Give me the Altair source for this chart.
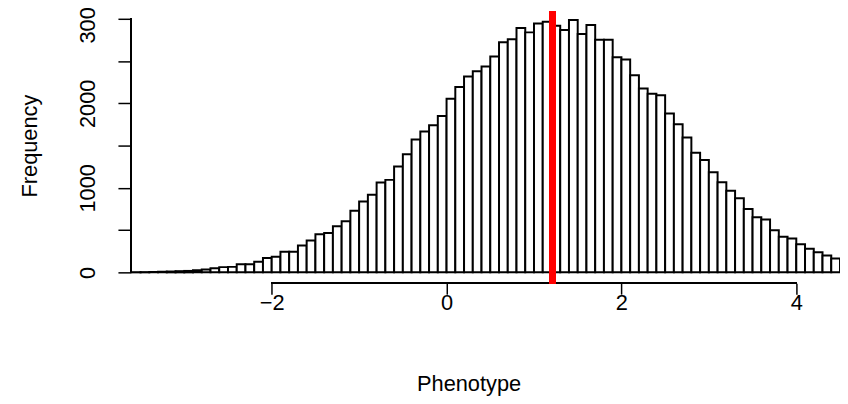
import altair as alt
import pandas as pd

# ---- data (bin width 0.1, first bin starts at -3.6)
BIN_START = -3.6
BIN_WIDTH = 0.1
counts = [
    2, 3, 5, 7, 10, 14, 17, 25, 35, 50,            # -3.6 .. -2.7
    62, 65, 95, 95, 125, 170, 184, 245, 245, 318,  # -2.6 .. -1.7
    378, 450, 467, 545, 604, 729, 839, 918, 1062, 1094,  # -1.6 .. -0.7
    1251, 1396, 1572, 1667, 1741, 1851,            # -0.6 .. -0.1
    2055, 2192, 2318, 2378, 2435, 2553, 2722, 2757, 2890, 2839,  # 0.0 .. 0.9
    2945, 2965, 2918, 2867, 2984, 2820, 2925, 2753, 2753, 2545,  # 1.0 .. 1.9
    2518, 2333, 2176, 2114, 2094, 1879, 1753, 1596, 1416, 1329,  # 2.0 .. 2.9
    1184, 1067, 965, 878, 749, 651, 624, 498, 420, 400,          # 3.0 .. 3.9
    333, 278, 239, 200, 165,                                     # 4.0 .. 4.4
]
mean_phenotype = 1.21
x_ticks = [-2, 0, 2, 4]
y_ticks = [0, 500, 1000, 1500, 2000, 2500, 3000]
y_label_step = 1000
x_domain = [-3.6, 4.5]
y_domain = [0, 3105]

starts = [round(BIN_START + i * BIN_WIDTH, 1) for i in range(len(counts))]
ends = [round(s + BIN_WIDTH, 1) for s in starts]
df = pd.DataFrame({"start": starts, "end": ends, "count": counts})

FONT = "Liberation Sans"
FS = 22
xscale = alt.Scale(domain=x_domain, nice=False, zero=False)
yscale = alt.Scale(domain=y_domain, nice=False)

bars = alt.Chart(df).mark_bar(
    fill="white", stroke="black", strokeWidth=2, strokeJoin="miter"
).encode(
    x=alt.X(
        "start:Q", scale=xscale,
        axis=alt.Axis(
            values=x_ticks, format="d", domain=False, grid=False, offset=11,
            tickSize=11, tickColor="black", tickWidth=1.5,
            labelFont=FONT, labelFontSize=FS, labelColor="black",
            labelPadding=8, labelBaseline="middle", labelFlush=False,
            title="Phenotype", titleFont=FONT, titleFontSize=FS,
            titleFontWeight="normal", titleColor="black",
            titleX=340, titleY=101, titleBaseline="middle", titleAlign="center",
        ),
    ),
    x2="end:Q",
    y=alt.Y(
        "count:Q", scale=yscale,
        axis=alt.Axis(
            values=y_ticks, domain=False, grid=False, offset=1,
            tickSize=13, tickColor="black", tickWidth=1.5,
            labelExpr=f"datum.value % {y_label_step} == 0 ? format(datum.value, 'd') : ''",
            labelFont=FONT, labelFontSize=FS, labelColor="black",
            labelAngle=270, labelAlign="center", labelBaseline="middle",
            labelPadding=31, labelOverlap=False, labelFlush=False,
            title="Frequency", titleFont=FONT, titleFontSize=FS,
            titleFontWeight="normal", titleColor="black",
            titleAngle=270, titleX=-102, titleY=137,
            titleBaseline="middle", titleAlign="center",
        ),
    ),
    y2=alt.datum(0),
)

x_axis_line = alt.Chart(df).mark_rule(color="black", strokeWidth=1.5).encode(
    x=alt.datum(x_ticks[0]), x2=alt.datum(x_ticks[-1]), y=alt.value(276)
)
y_axis_line = alt.Chart(df).mark_rule(color="black", strokeWidth=1.5).encode(
    x=alt.value(-1), y=alt.datum(y_ticks[0]), y2=alt.datum(y_ticks[-1])
)
mean_line = alt.Chart(df).mark_rule(color="#FF0000", strokeWidth=6.5).encode(
    x=alt.datum(mean_phenotype), y=alt.value(1), y2=alt.value(276)
)

chart = alt.layer(bars, x_axis_line, y_axis_line, mean_line).properties(
    width=715,
    height=265,
    autosize=alt.AutoSizeParams(type="none"),
    padding={"left": 125, "top": 0, "right": 0, "bottom": 131},
    background="white",
).configure_view(stroke=None)

chart.save("out.html", embed_options={"renderer": "svg", "actions": False})
